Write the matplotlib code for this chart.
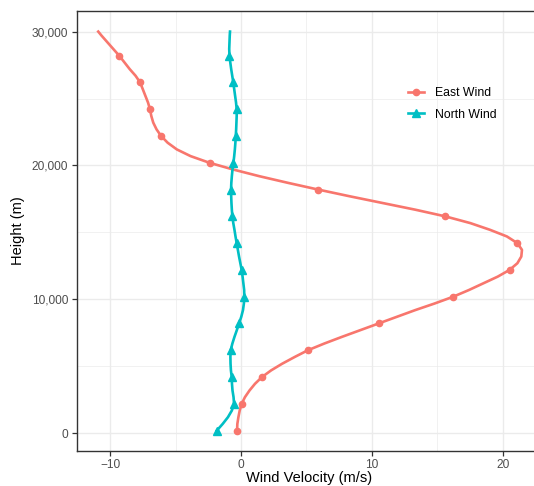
import matplotlib.pyplot as plt
from matplotlib.ticker import FuncFormatter, MultipleLocator

plt.rcParams['font.family'] = ['Liberation Sans', 'DejaVu Sans']

# 风速剖面数据（高度每 500 m 一个点）
height = [200, 700, 1200, 1700, 2200, 2700, 3200, 3700, 4200, 4700,
          5200, 5700, 6200, 6700, 7200, 7700, 8200, 8700, 9200, 9700,
          10200, 10700, 11200, 11700, 12200, 12700, 13200, 13700, 14200, 14700,
          15200, 15700, 16200, 16700, 17200, 17700, 18200, 18700, 19200, 19700,
          20200, 20700, 21200, 21700, 22200, 22700, 23200, 23700, 24200, 24700,
          25200, 25700, 26200, 26700, 27200, 27700, 28200, 28700, 29200, 29700,
          30000]
east_wind = [-0.3, -0.28, -0.2, -0.1, 0.05, 0.3, 0.65, 1.07, 1.6, 2.3,
             3.15, 4.1, 5.1, 6.35, 7.7, 9.1, 10.5, 11.9, 13.3, 14.8,
             16.2, 17.4, 18.5, 19.6, 20.5, 21.1, 21.4, 21.45, 21.1, 20.3,
             19.0, 17.5, 15.6, 13.3, 10.8, 8.3, 5.9, 3.6, 1.4, -0.6,
             -2.4, -3.85, -4.9, -5.6, -6.1, -6.45, -6.7, -6.85, -6.95, -7.1,
             -7.3, -7.5, -7.7, -8.05, -8.5, -8.9, -9.3, -9.75, -10.2, -10.65,
             -10.9]
north_wind = [-1.85, -1.4, -1.0, -0.7, -0.53, -0.57, -0.65, -0.69, -0.71, -0.77,
              -0.8, -0.81, -0.79, -0.66, -0.5, -0.32, -0.15, 0.02, 0.15, 0.22,
              0.25, 0.24, 0.18, 0.12, 0.05, -0.05, -0.15, -0.24, -0.33, -0.42,
              -0.5, -0.59, -0.66, -0.7, -0.73, -0.75, -0.76, -0.74, -0.7, -0.65,
              -0.58, -0.52, -0.47, -0.43, -0.4, -0.37, -0.35, -0.33, -0.33, -0.38,
              -0.45, -0.52, -0.59, -0.67, -0.75, -0.82, -0.88, -0.9, -0.88, -0.86,
              -0.84]

# 每 2000 m 标一个点
marks = list(range(0, 57, 4))

fig = plt.figure(figsize=(5.34, 4.86), dpi=100)
ax = fig.add_axes([76.5/534, 1-450.6/486, (542-76.5)/534, (450.6-11.5)/486])

ax.plot(east_wind, height, color='#F8766D', lw=1.9, marker='o', ms=4.5,
        markevery=marks, label='East Wind', solid_joinstyle='round')
ax.plot(north_wind, height, color='#00BFC4', lw=1.9, marker='^', ms=5.5,
        markevery=marks, label='North Wind', solid_joinstyle='round')

ax.set_xlim(-12.56, 22.98)
ax.set_ylim(-1292, 31500)

ax.xaxis.set_major_locator(MultipleLocator(10))
ax.xaxis.set_minor_locator(MultipleLocator(5))
ax.yaxis.set_major_locator(MultipleLocator(10000))
ax.yaxis.set_minor_locator(MultipleLocator(5000))
ax.yaxis.set_major_formatter(FuncFormatter(lambda v, p: f'{v:,.0f}'))

ax.grid(which='major', color='#EBEBEB', lw=1.0)
ax.grid(which='minor', color='#EBEBEB', lw=0.5)
ax.set_axisbelow(True)
for s in ax.spines.values():
    s.set_color('#333333')
    s.set_linewidth(1.0)
ax.tick_params(which='major', length=3.5, width=0.9, color='#333333',
               labelsize=8.6, labelcolor='#4D4D4D', pad=2.5)
ax.tick_params(which='minor', length=0)

ax.set_xlabel('Wind Velocity (m/s)', fontsize=10.5, labelpad=0)
ax.set_ylabel('Height (m)', fontsize=10.5, labelpad=5)

leg = ax.legend(loc='upper left', bbox_to_anchor=(397/534, 1-76/486),
                bbox_transform=fig.transFigure, frameon=False, fontsize=8.8,
                handlelength=1.3, handletextpad=0.9, labelspacing=0.8)

plt.savefig('out.png', dpi=100)
